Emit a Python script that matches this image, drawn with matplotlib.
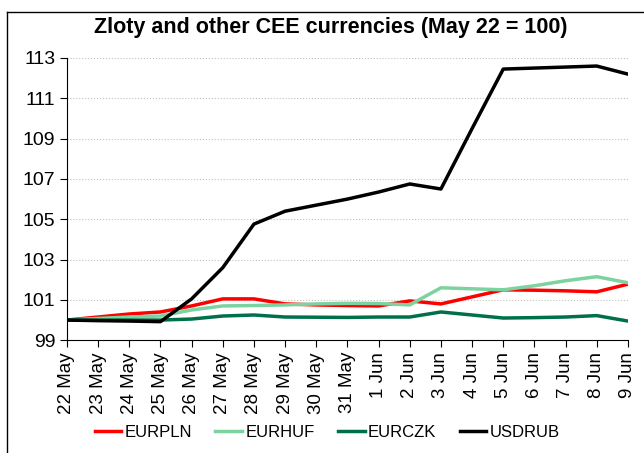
import matplotlib
matplotlib.use("Agg")
import matplotlib.pyplot as plt
from matplotlib.lines import Line2D

plt.rcParams['font.family'] = ['Liberation Sans', 'DejaVu Sans']

dates = ['22 May', '23 May', '24 May', '25 May', '26 May', '27 May', '28 May',
         '29 May', '30 May', '31 May', '1 Jun', '2 Jun', '3 Jun', '4 Jun',
         '5 Jun', '6 Jun', '7 Jun', '8 Jun', '9 Jun']

eurpln = [100.0, 100.15, 100.3, 100.4, 100.7, 101.05, 101.05, 100.8, 100.75, 100.72,
          100.7, 100.95, 100.8, 101.15, 101.5, 101.48, 101.45, 101.4, 101.78]
eurhuf = [100.0, 100.08, 100.15, 100.2, 100.5, 100.7, 100.72, 100.75, 100.8, 100.83,
          100.82, 100.75, 101.6, 101.55, 101.5, 101.7, 101.95, 102.15, 101.85]
eurczk = [100.0, 100.0, 100.0, 100.0, 100.05, 100.2, 100.25, 100.15, 100.14, 100.13,
          100.15, 100.15, 100.4, 100.25, 100.1, 100.12, 100.15, 100.22, 99.95]
usdrub = [100.0, 99.97, 99.95, 99.92, 101.05, 102.6, 104.76, 105.4, 105.7, 106.0,
          106.35, 106.75, 106.5, 109.5, 112.45, 112.5, 112.55, 112.6, 112.2]

series = [('EURPLN', eurpln, '#ff0000'),
          ('EURHUF', eurhuf, '#7dd3a0'),
          ('EURCZK', eurczk, '#00704a'),
          ('USDRUB', usdrub, '#000000')]

fig = plt.figure(figsize=(6.44, 4.53), dpi=100)
ax = fig.add_axes([0.104, 0.249, 0.871, 0.623])

x = range(len(dates))
for name, vals, col in series:
    ax.plot(x, vals, color=col, lw=2.5, label=name)

ax.set_xlim(0, len(dates) - 1)
ax.set_ylim(99, 113)
ax.set_yticks(range(99, 114, 2))
ax.set_xticks(list(x))
ax.set_xticklabels(dates, rotation=90, fontsize=13.5)
ax.tick_params(axis='y', labelsize=14, direction='out', length=5)
ax.tick_params(axis='x', direction='out', length=5)
ax.grid(axis='y', color='#c0c0c0', linestyle=':', lw=0.8)
ax.set_axisbelow(True)
for s in ['top', 'right']:
    ax.spines[s].set_visible(False)

fig.text(0.513, 0.94, 'Zloty and other CEE currencies (May 22 = 100)',
         ha='center', va='center', fontsize=15.5, fontweight='bold')

ax.legend(loc='center', bbox_to_anchor=(0.508, 0.045), bbox_transform=fig.transFigure,
          ncol=4, frameon=False, fontsize=12, handlelength=1.6, columnspacing=1.4,
          handletextpad=0.2)

# frame around the chart
fig.add_artist(Line2D([0.011, 0.011], [0.0, 0.974], color='black', lw=1,
                      transform=fig.transFigure))
fig.add_artist(Line2D([0.011, 1.0], [0.974, 0.974], color='black', lw=1,
                      transform=fig.transFigure))

fig.savefig('out.png', dpi=100)
